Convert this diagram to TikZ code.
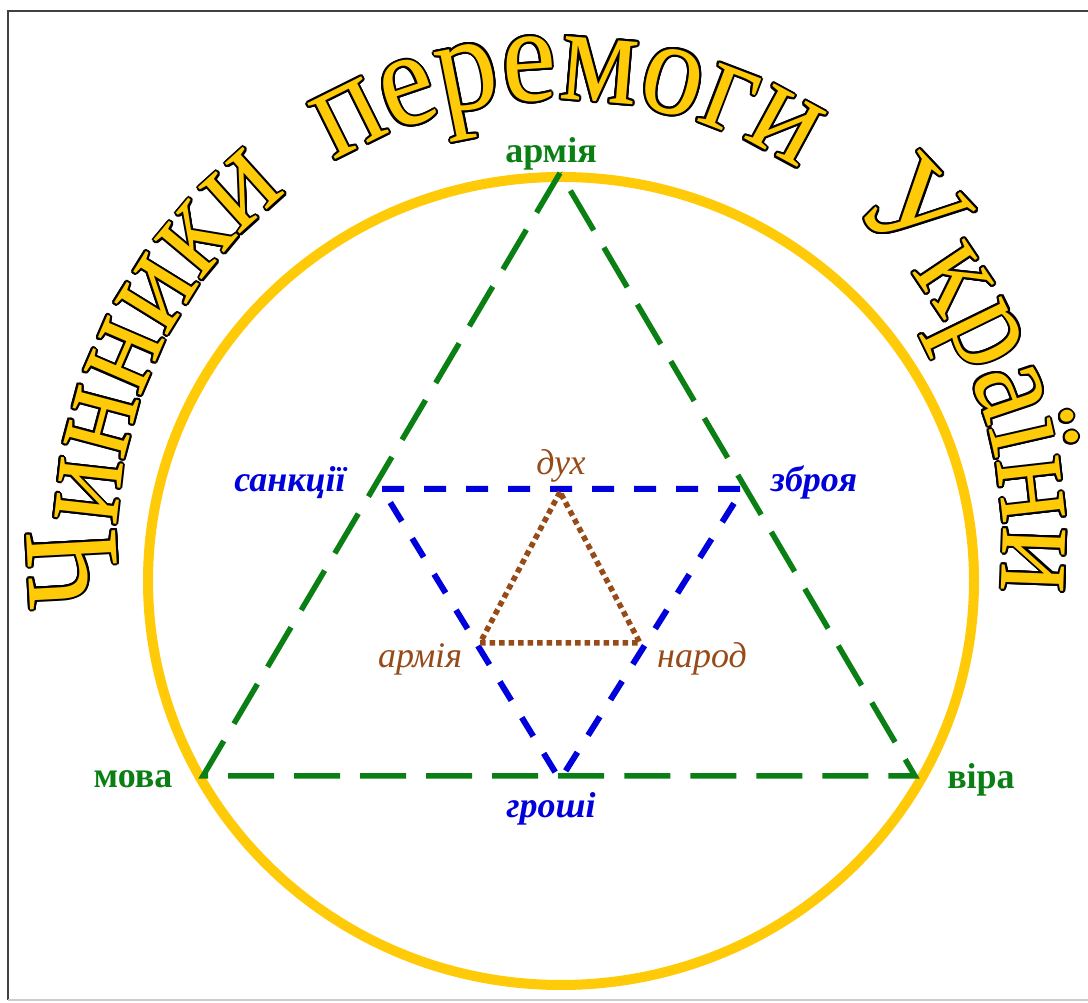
\documentclass[tikz,border=0pt]{standalone}
\usepackage{fontspec}
\setmainfont{Liberation Serif}
\newfontfamily\titlefont[FakeStretch=0.9]{Liberation Serif}
\usetikzlibrary{decorations.text}
\definecolor{gold}{RGB}{255,202,8}
\definecolor{dgreen}{RGB}{10,128,20}
\definecolor{dblue}{RGB}{0,0,220}
\definecolor{dbrown}{RGB}{150,75,25}
\newcommand\tfont{\titlefont\fontsize{136}{136}\selectfont}
\newcommand\titleword[2]{%
  \pgfmathsetmacro\tsa{#1+40}%
  \pgfmathsetmacro\tea{#1-40}%
  \foreach \ang in {0,22.5,...,337.5}{%
    \path[shift={(\ang:2.0)},decorate,decoration={text along path,text align=center,text={|\tfont\color{black}|#2}}]
      ([shift={(\tsa:443)}]560,460) arc[start angle=\tsa,end angle=\tea,radius=443];
  }%
  \path[decorate,decoration={text along path,text align=center,text={|\tfont\color{gold}|#2}}]
      ([shift={(\tsa:443)}]560,460) arc[start angle=\tsa,end angle=\tea,radius=443];
}
\begin{document}
\begin{tikzpicture}[x=1pt,y=1pt,
  glabel/.style={text=dgreen,font=\fontsize{36}{40}\selectfont\bfseries,inner sep=0pt,anchor=base},
  blabel/.style={text=dblue,font=\fontsize{36}{40}\selectfont\bfseries\itshape,inner sep=0pt,anchor=base},
  rlabel/.style={text=dbrown,font=\fontsize{36}{40}\selectfont\itshape,inner sep=0pt,anchor=base},
  gline/.style={draw=dgreen,line width=5.5,dash pattern=on 46pt off 20pt},
  bline/.style={draw=dblue,line width=6,dash pattern=on 22pt off 20pt},
  rline/.style={draw=dbrown,line width=5.5,dash pattern=on 5.5pt off 4pt},
]
\useasboundingbox (0,0) rectangle (1088,1003);
\fill[white] (0,0) rectangle (1088,1003);
% frame
\draw[gray!50!black,line width=1.2] (1090,992) -- (8,992) -- (8,3);
\draw[gray!40,line width=1.2] (8,3) -- (1090,3);
% circle
\draw[gold,line width=10] (561,422) ellipse[x radius=413,y radius=404];
% title
\titleword{158}{Чинники}
\titleword{89}{перемоги}
\titleword{21.3}{України}
% vertices
\coordinate (g1) at (560,830);
\coordinate (g2) at (203,227);
\coordinate (g3) at (915,227);
\coordinate (b1) at (382,514);
\coordinate (b2) at (743,514);
\coordinate (b3) at (560,223);
\coordinate (r1) at (560,511);
\coordinate (r2) at (480,360);
\coordinate (r3) at (640,360);
\draw[gline] (g1) -- (g2) -- (g3) -- cycle;
\draw[bline] (b1) -- (b2) -- (b3) -- cycle;
\draw[rline] (r1) -- (r2) -- (r3) -- cycle;
% labels
\node[glabel] (lg1) at (551,840) {армія};
\node[glabel] (lg2) at (133,215) {мова};
\node[glabel] (lg3) at (981,214) {віра};
\node[blabel] (lb1) at (290,511) {санкції};
\node[blabel] (lb2) at (814,511) {зброя};
\node[blabel] (lb3) at (551,185) {гроші};
\node[rlabel] (lr1) at (561,528) {дух};
\node[rlabel] (lr2) at (420,335) {армія};
\node[rlabel] (lr3) at (702,335) {народ};
\end{tikzpicture}
\end{document}
